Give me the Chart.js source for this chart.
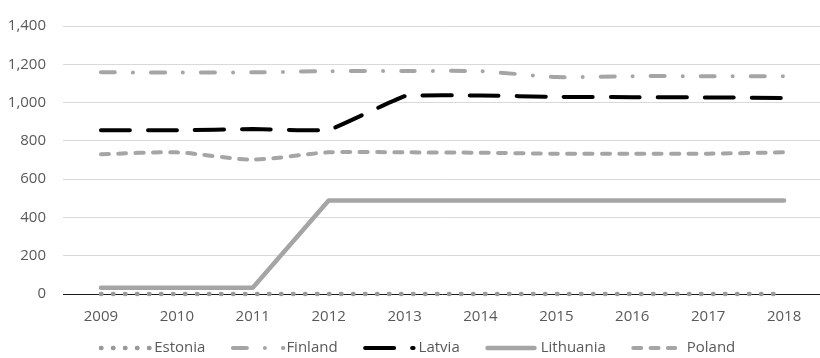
<!DOCTYPE html>
<html>
<head>
<meta charset="utf-8">
<script src="https://cdn.jsdelivr.net/npm/chart.js@4.4.1/dist/chart.umd.min.js"></script>
<style>
  html, body { margin: 0; padding: 0; background: #fff; overflow: hidden; }
  #wrap { width: 820px; height: 358px; overflow: hidden; position: relative; }
  canvas { display: block; }
</style>
</head>
<body>
<div id="wrap"><canvas id="c" width="822" height="358"></canvas></div>
<script>
// Annual values per country
const years     = ['2009', '2010', '2011', '2012', '2013', '2014', '2015', '2016', '2017', '2018'];
const estonia   = [0, 0, 0, 0, 0, 0, 0, 0, 0, 0];
const finland   = [1158, 1157, 1158, 1164, 1165, 1164, 1133, 1138, 1138, 1138];
const latvia    = [855, 855, 862, 857, 1033, 1037, 1030, 1028, 1027, 1024];
const lithuania = [33, 33, 33, 488, 488, 488, 488, 488, 488, 488];
const poland    = [730, 740, 702, 740, 740, 738, 733, 732, 733, 740];
const yTicks    = [0, 200, 400, 600, 800, 1000, 1200, 1400];

const FONT = '"Open Sans", "Noto Sans", sans-serif';
const TEXT = '#595959';
const GRAY = '#A5A5A5';

function line(label, data, color, width, dash, tension) {
  return {
    label, data,
    borderColor: color,
    backgroundColor: color,
    borderWidth: width,
    borderDash: dash,
    borderCapStyle: 'round',
    borderJoinStyle: 'round',
    pointRadius: 0,
    pointHoverRadius: 0,
    tension: tension,
    fill: false,
    clip: 6
  };
}

// Legend drawn underneath the plot, each sample using its series' stroke style
const sampleLegend = {
  id: 'sampleLegend',
  afterDraw(chart) {
    const ctx = chart.ctx;
    const sets = chart.data.datasets;
    const sampleW = 55.5, itemGap = 25.5, y = 348, cx = 417;
    ctx.save();
    ctx.font = '15px ' + FONT;
    const widths = sets.map(ds => ctx.measureText(ds.label).width);
    const total = widths.reduce((s, w) => s + sampleW + w, 0) + itemGap * (sets.length - 1);
    let x = cx - total / 2;
    sets.forEach((ds, i) => {
      const cap = ds.borderWidth / 2;
      ctx.beginPath();
      ctx.strokeStyle = ds.borderColor;
      ctx.lineWidth = ds.borderWidth;
      ctx.lineCap = 'round';
      ctx.setLineDash(ds.borderDash || []);
      ctx.moveTo(x + cap, y);
      ctx.lineTo(x + cap + (ds.legendLen || 48.5), y);
      ctx.stroke();
      ctx.setLineDash([]);
      ctx.fillStyle = TEXT;
      ctx.textAlign = 'left';
      ctx.textBaseline = 'middle';
      ctx.fillText(ds.label, x + sampleW, y);
      x += sampleW + widths[i] + itemGap;
    });
    ctx.restore();
  }
};

const dsEstonia   = line('Estonia',   estonia,   '#999999', 4.5, [0.5, 11.5], 0);
const dsFinland   = line('Finland',   finland,   GRAY,      4,   [14, 18, 0, 18], 0.2);
const dsLatvia    = line('Latvia',    latvia,    '#000000', 4,   [29, 18], 0.08);
const dsLithuania = line('Lithuania', lithuania, GRAY,      4.5, [], 0);
const dsPoland    = line('Poland',    poland,    GRAY,      4,   [8, 9.3], 0.25);
dsEstonia.legendLen = 49;
dsFinland.legendLen = 50.5;
dsLithuania.legendLen = 47;
dsPoland.legendLen = 42;

new Chart(document.getElementById('c'), {
  type: 'line',
  data: {
    labels: years,
    datasets: [dsEstonia, dsFinland, dsLatvia, dsLithuania, dsPoland]
  },
  options: {
    responsive: false,
    animation: false,
    layout: { padding: { top: 15, left: 0, right: 0, bottom: 36 } },
    plugins: { legend: { display: false }, tooltip: { enabled: false } },
    scales: {
      x: {
        offset: true,
        grid: { display: false, drawTicks: false },
        border: { display: false },
        ticks: { color: TEXT, font: { family: FONT, size: 15 }, padding: 14, maxRotation: 0 },
        afterFit(s) { s.height = 28; }
      },
      y: {
        min: 0,
        max: 1400,
        afterBuildTicks(s) { s.ticks = yTicks.map(v => ({ value: v })); },
        grid: {
          drawTicks: false,
          lineWidth: 1,
          color: c => (c.tick && c.tick.value === 0 ? '#1a1a1a' : '#D9D9D9')
        },
        border: { display: false },
        ticks: {
          color: TEXT,
          font: { family: FONT, size: 15 },
          padding: 17,
          callback: v => v.toLocaleString('en-US')
        },
        afterFit(s) { s.width = 63; }
      }
    }
  },
  plugins: [sampleLegend]
});
</script>
</body>
</html>
